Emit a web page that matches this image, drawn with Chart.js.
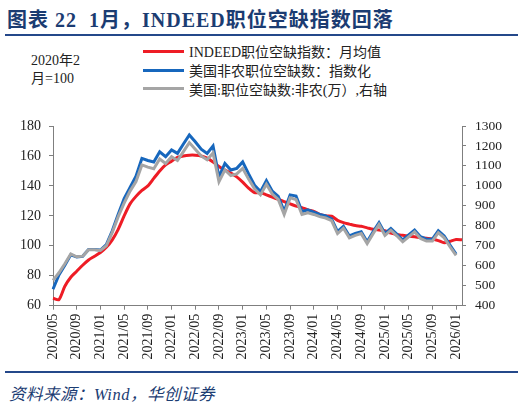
<!DOCTYPE html>
<html>
<head>
<meta charset="utf-8">
<script src="https://cdn.jsdelivr.net/npm/chart.js@4.4.1/dist/chart.umd.min.js"></script>
<style>
  html, body { margin: 0; padding: 0; background: #fff; }
  body { width: 524px; height: 407px; position: relative; overflow: hidden;
         font-family: "Liberation Serif", "Noto Sans CJK SC", serif; }
  #title { position: absolute; left: 7px; top: 4px; font-size: 20px; font-weight: bold;
           color: #1b3c72; white-space: pre; letter-spacing: 1px; }
  .rule { position: absolute; left: 5px; width: 513px; height: 2px; background: #24488a; }
  #unit { position: absolute; left: 31px; top: 52px; font-size: 14px; line-height: 18px; color: #222; }
  #legend { position: absolute; left: 143px; top: 42px; }
  .item { height: 18.7px; display: flex; align-items: center; font-size: 14px; color: #222; white-space: nowrap; }
  .swatch { width: 41px; height: 3px; margin-right: 5px; }
  #source { position: absolute; left: 9px; top: 381px; font-size: 16.5px; font-style: italic;
            color: #1b3c72; white-space: nowrap; letter-spacing: 0.5px; }
  #wrap { position: absolute; left: 0; top: 100px; width: 524px; height: 272px; }
</style>
</head>
<body>
<div id="title">图表 22  1月，INDEED职位空缺指数回落</div>
<div class="rule" style="top:33.5px"></div>
<div id="unit">2020年2<br>月=100</div>
<div id="legend">
  <div class="item"><span class="swatch" style="background:#ee1c25"></span>INDEED职位空缺指数：月均值</div>
  <div class="item"><span class="swatch" style="background:#1767bd"></span>美国非农职位空缺数：指数化</div>
  <div class="item"><span class="swatch" style="background:#a5a5a5"></span>美国:职位空缺数:非农(万）,右轴</div>
</div>
<div id="wrap"><canvas id="myChart"></canvas></div>
<div class="rule" style="top:370.5px"></div>
<div id="source">资料来源：Wind，华创证券</div>
<script>
// months 2020/05 .. 2026/02
const labels = [
  '2020/05','2020/06','2020/07','2020/08','2020/09','2020/10','2020/11','2020/12',
  '2021/01','2021/02','2021/03','2021/04','2021/05','2021/06','2021/07','2021/08','2021/09','2021/10','2021/11','2021/12',
  '2022/01','2022/02','2022/03','2022/04','2022/05','2022/06','2022/07','2022/08','2022/09','2022/10','2022/11','2022/12',
  '2023/01','2023/02','2023/03','2023/04','2023/05','2023/06','2023/07','2023/08','2023/09','2023/10','2023/11','2023/12',
  '2024/01','2024/02','2024/03','2024/04','2024/05','2024/06','2024/07','2024/08','2024/09','2024/10','2024/11','2024/12',
  '2025/01','2025/02','2025/03','2025/04','2025/05','2025/06','2025/07','2025/08','2025/09','2025/10','2025/11','2025/12',
  '2026/01','2026/02'
];

// INDEED job postings index, monthly average (2020/02 = 100)
const indeed = [
  65, 64, 73, 79, 83, 87, 90.5, 93,
  95.5, 99, 104, 111, 120, 128, 133, 137, 140, 145, 150, 154,
  156.5, 159, 160, 160.5, 160.5, 160, 158.5, 156, 153, 150.5, 148.5, 146,
  142.5, 138.5, 135.5, 135.5, 134, 132.5, 131, 129.5, 128, 126.5, 125.5, 124,
  123, 121, 120, 119.8, 117, 115.5, 114.5, 113.5, 113, 112, 111, 110.5,
  110, 108.5, 107.5, 107, 106.5, 106, 105.5, 105, 104.5, 103.5, 102, 103,
  104.2, 104
];

// US nonfarm job openings, indexed (2020/02 = 100)
const openingsIndex = [
  71, 80.5, 87, 94, 92.5, 93, 97.5, 97.5,
  97.2, 100.8, 110, 121, 131.5, 139, 146.5, 158.4, 157, 156, 162.8, 159.5,
  164, 161.7, 168, 174, 169.5, 164.5, 161.7, 166.6, 146, 155, 150.6, 151.7,
  156, 148, 140.5, 136.2, 143.5, 136.5, 133, 123, 134, 133.2, 122.8, 124,
  122.5, 121, 120, 118, 109.4, 113, 106.6, 108.3, 109.4, 102.7, 109.4, 115.5,
  108.3, 111.6, 107.9, 103.9, 107.2, 110.5, 106.1, 104.4, 104.4, 110, 106.5, 100.4,
  94.5, null
];

// US nonfarm job openings, 10k persons (right axis)
const openings = [
  527, 565, 610, 659, 645, 648, 680, 680,
  677, 700, 767, 846, 914, 974, 1022, 1105, 1094, 1086, 1135, 1112,
  1146, 1127, 1172, 1217, 1184, 1150, 1131, 1165, 1021, 1080, 1052, 1060,
  1088, 1034, 985, 955, 1008, 959, 932, 857, 940, 932, 857, 865,
  857, 846, 839, 826, 761, 788, 740, 752, 761, 711, 761, 807,
  752, 778, 750, 720, 745, 770, 737, 724, 724, 766, 740, 694,
  652, null
];

const axisColor = '#7f7f7f';
const tickFont = { family: 'Liberation Serif', size: 14 };

var ctx = document.getElementById('myChart').getContext('2d');
var chart = new Chart(ctx, {
  type: 'line',
  data: {
    labels: labels,
    datasets: [
      {
        label: 'INDEED职位空缺指数：月均值',
        data: indeed,
        borderColor: '#ee1c25',
        borderWidth: 3,
        pointRadius: 0,
        tension: 0.25,
        yAxisID: 'y',
        order: 3
      },
      {
        label: '美国非农职位空缺数：指数化',
        data: openingsIndex,
        borderColor: '#1767bd',
        borderWidth: 3,
        pointRadius: 0,
        tension: 0,
        yAxisID: 'y',
        order: 2
      },
      {
        label: '美国:职位空缺数:非农(万）,右轴',
        data: openings,
        borderColor: '#a5a5a5',
        borderWidth: 3,
        pointRadius: 0,
        tension: 0,
        yAxisID: 'y1',
        order: 1
      }
    ]
  },
  options: {
    responsive: true,
    maintainAspectRatio: false,
    animation: false,
    layout: { padding: { top: 26, left: 0, right: 0, bottom: 0 } },
    plugins: {
      legend: { display: false },
      tooltip: { enabled: false }
    },
    scales: {
      x: {
        type: 'category',
        offset: false,
        grid: { display: true, drawOnChartArea: false, drawTicks: true, tickLength: 4, color: axisColor },
        border: { display: true, color: axisColor },
        ticks: {
          autoSkip: false,
          maxRotation: 90,
          minRotation: 90,
          padding: 4,
          color: '#222',
          font: tickFont,
          callback: function(value, index) {
            return index % 4 === 0 ? labels[index] : null;
          }
        },
        afterFit: function(scale) { scale.height = 66.3; }
      },
      y: {
        position: 'left',
        min: 60,
        max: 180,
        grid: { display: true, drawOnChartArea: false, drawTicks: true, tickLength: 4, color: axisColor },
        border: { display: true, color: axisColor },
        ticks: { stepSize: 20, padding: 8, color: '#222', font: tickFont },
        afterFit: function(scale) { scale.width = 53; }
      },
      y1: {
        position: 'right',
        min: 400,
        max: 1300,
        grid: { display: true, drawOnChartArea: false, drawTicks: true, tickLength: 4, color: axisColor },
        border: { display: true, color: axisColor },
        ticks: {
          stepSize: 100, padding: 9, color: '#222',
          font: { family: 'Liberation Serif', size: 13.5 },
          callback: function(value) { return String(value); }
        },
        afterFit: function(scale) { scale.width = 62; }
      }
    }
  }
});
</script>
</body>
</html>
